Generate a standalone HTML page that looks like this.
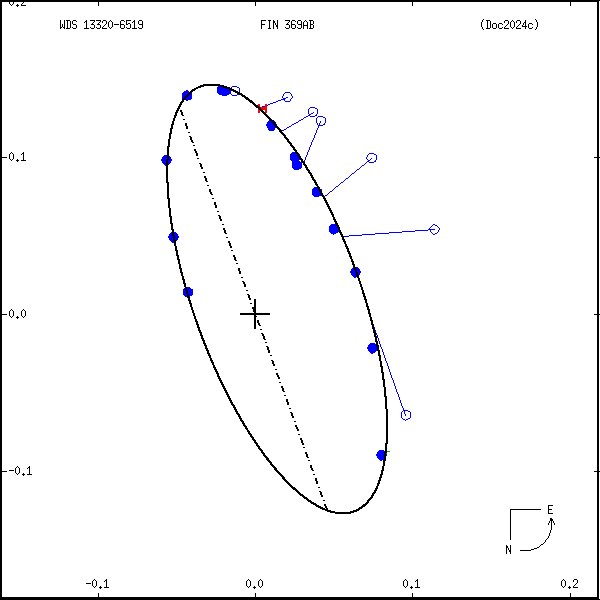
<!DOCTYPE html>
<html lang="en">
<head>
<meta charset="utf-8">
<title>WDS 13320-6519 FIN 369AB orbit (Doc2024c)</title>
<style>
html,body{margin:0;padding:0;background:#fff;width:600px;height:600px;overflow:hidden}
svg{display:block;position:absolute;left:0;top:0}
svg text{font-family:"Liberation Mono",monospace;font-size:10px;fill:#000;fill-opacity:0}
</style>
</head>
<body>
<svg width="600" height="600" viewBox="0 0 600 600" shape-rendering="crispEdges" role="img" aria-label="Orbit plot of WDS 13320-6519 FIN 369AB (Doc2024c)">
<rect width="600" height="600" fill="#fff"/>
<path fill="#0000ff" d="M161 159h5v2h-5zM162 161h4v2h-4zM162 157h5v2h-5zM163 163h3v1h-3zM163 156h4v1h-4zM164 164h2v1h-2zM164 155h3v1h-3zM165 165h1v1h-1zM168 164h1v1h-1zM168 163h2v1h-2zM168 161h3v2h-3zM168 160h4v1h-4zM168 236h5v2h-5zM169 156h1v1h-1zM169 157h2v2h-2zM169 159h3v1h-3zM169 234h3v2h-3zM169 238h4v2h-4zM170 233h2v1h-2zM170 240h3v1h-3zM171 232h1v1h-1zM171 241h3v1h-3zM172 242h2v1h-2zM174 232h2v1h-2zM174 233h3v1h-3zM174 234h4v1h-4zM175 235h3v1h-3zM175 238h3v2h-3zM175 236h4v2h-4zM176 240h1v1h-1zM182 98h1v1h-1zM182 97h2v1h-2zM182 96h3v1h-3zM182 95h4v1h-4zM182 94h5v1h-5zM182 93h6v1h-6zM183 289h2v2h-2zM183 291h3v3h-3zM183 294h4v1h-4zM183 92h6v1h-6zM184 288h1v1h-1zM184 295h3v1h-3zM184 91h5v1h-5zM185 296h2v1h-2zM185 99h6v1h-6zM186 90h2v1h-2zM186 100h2v1h-2zM186 98h6v1h-6zM187 287h3v1h-3zM187 288h4v1h-4zM187 97h5v1h-5zM187 289h6v1h-6zM188 96h4v1h-4zM188 290h5v4h-5zM189 296h1v1h-1zM189 95h3v1h-3zM189 295h3v1h-3zM189 294h4v1h-4zM190 94h2v1h-2zM191 93h1v1h-1zM217 87h6v1h-6zM217 88h9v1h-9zM217 89h12v1h-12zM217 90h14v3h-14zM218 86h2v1h-2zM218 93h13v1h-13zM219 94h10v1h-10zM222 95h5v1h-5zM231 87h1v1h-1zM231 94h1v1h-1zM232 86h5v1h-5zM232 95h5v1h-5zM237 87h2v1h-2zM237 94h2v1h-2zM239 88h1v4h-1zM262 106h3v1h-3zM266 124h7v1h-7zM266 125h8v1h-8zM267 105h1v1h-1zM267 122h5v1h-5zM267 123h6v1h-6zM267 126h8v1h-8zM267 127h9v1h-9zM268 104h2v1h-2zM268 121h3v1h-3zM268 128h7v2h-7zM269 120h1v1h-1zM269 130h5v1h-5zM270 103h3v1h-3zM273 120h1v1h-1zM273 102h3v1h-3zM274 121h1v1h-1zM275 122h1v1h-1zM276 124h1v1h-1zM276 101h2v1h-2zM278 100h3v1h-3zM281 99h4v1h-4zM282 96h1v2h-1zM282 130h2v1h-2zM283 94h1v2h-1zM283 98h3v1h-3zM284 93h1v1h-1zM284 100h1v1h-1zM284 129h2v1h-2zM285 92h5v1h-5zM285 101h5v1h-5zM286 128h1v1h-1zM286 97h2v1h-2zM287 127h2v1h-2zM289 126h2v1h-2zM290 93h1v1h-1zM290 99h1v2h-1zM290 154h7v2h-7zM290 156h8v1h-8zM290 157h9v2h-9zM290 159h10v1h-10zM291 94h1v2h-1zM291 98h1v1h-1zM291 125h1v1h-1zM291 153h5v1h-5zM291 160h8v1h-8zM292 96h1v2h-1zM292 124h2v1h-2zM292 152h3v1h-3zM292 161h8v1h-8zM292 162h10v6h-10zM293 168h8v1h-8zM294 123h2v1h-2zM294 169h5v1h-5zM296 122h2v1h-2zM298 121h1v1h-1zM299 154h1v1h-1zM299 120h2v1h-2zM301 119h2v1h-2zM303 118h1v1h-1zM304 160h1v2h-1zM304 117h2v1h-2zM305 157h1v3h-1zM306 155h1v2h-1zM306 116h2v1h-2zM307 152h1v3h-1zM308 109h1v5h-1zM308 150h1v2h-1zM308 115h2v1h-2zM309 108h1v1h-1zM309 147h1v3h-1zM309 114h2v1h-2zM310 145h1v2h-1zM310 107h5v1h-5zM310 116h5v1h-5zM311 142h1v3h-1zM311 113h2v1h-2zM312 140h1v2h-1zM312 189h6v1h-6zM312 190h7v2h-7zM312 192h8v2h-8zM312 194h9v1h-9zM313 112h1v1h-1zM313 138h1v2h-1zM313 188h5v1h-5zM313 195h8v1h-8zM314 135h1v3h-1zM314 187h3v1h-3zM314 196h5v1h-5zM315 133h1v2h-1zM315 108h2v1h-2zM315 115h2v1h-2zM316 114h1v1h-1zM316 118h1v5h-1zM316 130h1v3h-1zM317 109h1v5h-1zM317 117h1v1h-1zM317 123h1v2h-1zM317 128h1v2h-1zM318 126h1v2h-1zM318 116h5v1h-5zM318 125h5v1h-5zM319 123h1v2h-1zM320 121h1v2h-1zM321 189h1v2h-1zM323 117h2v1h-2zM323 124h2v1h-2zM324 123h1v1h-1zM324 196h1v1h-1zM325 118h1v5h-1zM325 195h2v1h-2zM327 194h1v1h-1zM328 193h1v1h-1zM329 192h1v1h-1zM329 226h8v2h-8zM329 228h9v2h-9zM329 230h10v2h-10zM330 191h2v1h-2zM330 225h6v1h-6zM330 232h8v1h-8zM331 224h5v1h-5zM331 233h5v1h-5zM332 190h1v1h-1zM333 189h1v1h-1zM333 234h1v1h-1zM334 188h1v1h-1zM335 187h1v1h-1zM336 186h2v1h-2zM338 185h1v1h-1zM339 184h1v1h-1zM340 183h1v1h-1zM341 182h2v1h-2zM343 181h1v1h-1zM344 180h1v1h-1zM344 236h5v1h-5zM345 179h1v1h-1zM346 178h2v1h-2zM348 177h1v1h-1zM349 176h1v1h-1zM349 235h13v1h-13zM350 175h1v1h-1zM350 271h5v2h-5zM351 174h1v1h-1zM351 269h3v1h-3zM351 270h4v1h-4zM351 273h5v2h-5zM352 173h2v1h-2zM352 268h2v1h-2zM352 275h4v1h-4zM353 267h1v1h-1zM353 276h4v1h-4zM354 172h1v1h-1zM354 277h2v1h-2zM355 171h1v1h-1zM356 170h1v1h-1zM356 267h2v1h-2zM356 268h3v1h-3zM357 169h2v1h-2zM357 269h3v2h-3zM357 271h4v1h-4zM358 273h2v2h-2zM358 272h3v1h-3zM359 168h1v1h-1zM360 167h1v1h-1zM361 166h1v1h-1zM362 165h2v1h-2zM362 234h13v1h-13zM364 164h1v1h-1zM365 163h1v1h-1zM366 157h1v2h-1zM366 162h1v1h-1zM367 155h1v2h-1zM367 159h1v1h-1zM367 161h2v1h-2zM367 347h10v2h-10zM368 154h1v1h-1zM368 160h2v1h-2zM368 345h8v1h-8zM368 346h9v1h-9zM368 349h9v2h-9zM369 153h5v1h-5zM369 162h5v1h-5zM369 344h7v1h-7zM369 351h7v1h-7zM370 159h1v1h-1zM370 343h5v1h-5zM370 352h5v1h-5zM371 158h1v1h-1zM371 353h2v1h-2zM374 327h1v1h-1zM374 154h2v1h-2zM374 161h2v1h-2zM375 160h1v1h-1zM375 330h1v2h-1zM375 233h14v1h-14zM376 155h1v5h-1zM376 333h1v2h-1zM376 454h8v2h-8zM377 335h1v3h-1zM377 452h7v2h-7zM377 456h7v2h-7zM378 338h1v3h-1zM378 458h6v1h-6zM378 451h7v1h-7zM379 341h1v3h-1zM379 450h5v1h-5zM379 459h5v1h-5zM380 344h1v3h-1zM380 460h2v1h-2zM381 347h1v2h-1zM382 349h1v3h-1zM383 352h1v3h-1zM384 355h1v3h-1zM385 358h1v3h-1zM386 361h1v2h-1zM386 454h1v2h-1zM387 363h1v3h-1zM388 366h1v3h-1zM389 369h1v3h-1zM389 232h13v1h-13zM390 372h1v3h-1zM391 375h1v3h-1zM392 378h1v2h-1zM393 380h1v3h-1zM394 383h1v3h-1zM395 386h1v3h-1zM396 389h1v3h-1zM397 392h1v2h-1zM398 394h1v3h-1zM399 397h1v3h-1zM400 400h1v3h-1zM401 403h1v3h-1zM401 412h1v6h-1zM402 406h1v2h-1zM402 411h1v1h-1zM402 418h1v1h-1zM402 231h13v1h-13zM403 408h1v2h-1zM403 419h2v1h-2zM403 410h5v1h-5zM404 411h1v3h-1zM405 414h1v2h-1zM405 420h1v1h-1zM406 419h2v1h-2zM408 411h2v1h-2zM408 418h2v1h-2zM410 412h1v6h-1zM415 230h13v1h-13zM428 229h7v1h-7zM429 228h1v1h-1zM430 227h1v1h-1zM430 230h1v2h-1zM431 226h1v1h-1zM431 232h1v1h-1zM432 225h1v1h-1zM432 233h1v1h-1zM433 224h2v1h-2zM433 234h2v1h-2zM435 225h2v1h-2zM435 233h2v1h-2zM437 226h1v1h-1zM437 232h1v1h-1zM438 227h1v1h-1zM438 230h1v2h-1zM439 228h1v2h-1z"/>
<path fill="#00a800" d="M386 453h1v1h-1zM387 451h3v1h-3z"/>
<path fill="#ff0000" d="M258 109h1v1h-1zM258 104h2v2h-2zM258 110h2v3h-2zM259 106h1v1h-1zM260 107h7v1h-7zM261 108h6v1h-6zM262 109h5v1h-5zM265 104h2v3h-2zM265 110h2v3h-2z"/>
<path fill="#000000" d="M0 2h2v155h-2zM0 158h2v156h-2zM0 315h2v156h-2zM0 472h2v125h-2zM0 157h7v1h-7zM0 314h7v1h-7zM0 471h7v1h-7zM0 1h599v1h-599zM0 597h599v2h-599zM0 0h600v1h-600zM0 599h600v1h-600zM9 2h1v2h-1zM9 154h1v5h-1zM9 311h1v5h-1zM9 470h5v1h-5zM10 4h1v1h-1zM10 153h1v1h-1zM10 159h1v1h-1zM10 310h1v1h-1zM10 316h1v1h-1zM11 5h1v1h-1zM11 152h1v1h-1zM11 160h1v1h-1zM11 309h1v1h-1zM11 317h1v1h-1zM12 4h1v1h-1zM12 153h1v1h-1zM12 159h1v1h-1zM12 310h1v1h-1zM12 316h1v1h-1zM13 2h1v2h-1zM13 154h1v5h-1zM13 311h1v5h-1zM15 468h1v5h-1zM16 467h1v1h-1zM16 473h1v1h-1zM16 5h3v1h-3zM16 160h3v1h-3zM16 317h3v1h-3zM17 4h1v1h-1zM17 6h1v1h-1zM17 159h1v1h-1zM17 161h1v1h-1zM17 316h1v1h-1zM17 318h1v1h-1zM17 466h1v1h-1zM17 474h1v1h-1zM18 467h1v1h-1zM18 473h1v1h-1zM19 468h1v5h-1zM21 4h1v1h-1zM21 154h1v1h-1zM21 311h1v5h-1zM21 5h5v1h-5zM21 160h5v1h-5zM22 3h1v1h-1zM22 310h1v1h-1zM22 316h1v1h-1zM22 153h2v1h-2zM22 474h3v1h-3zM23 2h1v1h-1zM23 152h1v1h-1zM23 154h1v6h-1zM23 309h1v1h-1zM23 317h1v1h-1zM23 473h1v1h-1zM23 475h1v1h-1zM24 310h1v1h-1zM24 316h1v1h-1zM25 311h1v5h-1zM27 468h1v1h-1zM27 474h5v1h-5zM28 467h2v1h-2zM29 466h1v1h-1zM29 468h1v6h-1zM60 20h1v7h-1zM60 28h1v1h-1zM60 27h2v1h-2zM62 24h1v3h-1zM63 27h2v1h-2zM64 20h1v7h-1zM64 28h1v1h-1zM66 20h4v1h-4zM66 28h4v1h-4zM67 21h1v7h-1zM70 21h1v7h-1zM72 21h1v3h-1zM72 27h1v1h-1zM73 20h3v1h-3zM73 24h3v1h-3zM73 28h3v1h-3zM76 21h1v1h-1zM76 25h1v3h-1zM84 22h1v1h-1zM84 28h5v1h-5zM85 21h2v1h-2zM86 20h1v1h-1zM86 22h1v6h-1zM86 583h5v1h-5zM90 27h1v1h-1zM90 20h5v1h-5zM91 24h3v1h-3zM91 28h3v1h-3zM92 23h1v1h-1zM92 581h1v5h-1zM93 22h1v1h-1zM93 580h1v1h-1zM93 586h1v1h-1zM94 21h1v1h-1zM94 25h1v3h-1zM94 579h1v1h-1zM94 587h1v1h-1zM95 580h1v1h-1zM95 586h1v1h-1zM96 27h1v1h-1zM96 581h1v5h-1zM96 20h5v1h-5zM97 24h3v1h-3zM97 28h3v1h-3zM98 2h1v4h-1zM98 23h1v1h-1zM98 593h1v4h-1zM99 22h1v1h-1zM99 587h3v1h-3zM100 21h1v1h-1zM100 25h1v3h-1zM100 586h1v1h-1zM100 588h1v1h-1zM102 21h1v2h-1zM102 27h1v1h-1zM102 28h5v1h-5zM103 26h1v1h-1zM103 20h3v1h-3zM104 25h1v1h-1zM104 581h1v1h-1zM104 587h5v1h-5zM105 24h1v1h-1zM105 580h2v1h-2zM106 21h1v3h-1zM106 579h1v1h-1zM106 581h1v6h-1zM108 22h1v5h-1zM109 21h1v1h-1zM109 27h1v1h-1zM110 20h1v1h-1zM110 28h1v1h-1zM111 21h1v1h-1zM111 27h1v1h-1zM112 22h1v5h-1zM114 24h5v1h-5zM120 21h1v3h-1zM120 25h1v3h-1zM120 24h4v1h-4zM121 20h3v1h-3zM121 28h3v1h-3zM124 21h1v1h-1zM124 25h1v3h-1zM126 21h1v3h-1zM126 27h1v1h-1zM126 24h2v1h-2zM126 20h5v1h-5zM127 28h3v1h-3zM128 23h2v1h-2zM130 24h1v4h-1zM132 22h1v1h-1zM132 28h5v1h-5zM133 21h2v1h-2zM134 20h1v1h-1zM134 22h1v6h-1zM138 21h1v3h-1zM138 27h1v1h-1zM139 20h3v1h-3zM139 28h3v1h-3zM139 24h4v1h-4zM142 21h1v3h-1zM142 25h1v3h-1zM166 160h2v22h-2zM166 159h3v1h-3zM166 182h3v1h-3zM167 147h2v12h-2zM167 183h2v15h-2zM167 146h3v1h-3zM167 198h3v1h-3zM168 139h2v7h-2zM168 199h2v9h-2zM169 134h2v5h-2zM169 208h2v8h-2zM169 133h3v1h-3zM169 216h3v1h-3zM170 129h2v4h-2zM170 217h2v6h-2zM170 128h3v1h-3zM170 223h3v1h-3zM171 125h2v3h-2zM171 224h2v5h-2zM171 124h3v1h-3zM171 229h3v1h-3zM172 121h2v3h-2zM172 230h2v5h-2zM172 235h3v1h-3zM173 118h2v3h-2zM173 236h2v4h-2zM173 240h3v1h-3zM174 116h2v2h-2zM174 241h2v5h-2zM174 115h3v1h-3zM175 113h2v2h-2zM175 246h2v4h-2zM175 112h3v1h-3zM175 250h3v1h-3zM176 111h2v1h-2zM176 251h2v4h-2zM176 110h3v1h-3zM176 255h3v1h-3zM177 109h2v1h-2zM177 256h2v3h-2zM177 108h3v1h-3zM177 259h3v1h-3zM178 107h2v1h-2zM178 260h2v4h-2zM178 106h3v1h-3zM179 105h2v1h-2zM179 264h2v4h-2zM179 104h3v1h-3zM179 268h3v1h-3zM180 103h2v1h-2zM180 110h2v2h-2zM180 269h2v3h-2zM180 102h3v1h-3zM180 272h3v1h-3zM181 112h2v3h-2zM181 273h2v3h-2zM181 101h3v1h-3zM182 100h2v1h-2zM182 115h2v1h-2zM182 276h2v3h-2zM182 99h3v1h-3zM182 279h3v1h-3zM183 119h2v1h-2zM183 280h2v3h-2zM183 98h3v1h-3zM183 283h3v1h-3zM184 284h2v3h-2zM184 97h3v1h-3zM185 123h2v3h-2zM185 287h2v3h-2zM185 96h3v1h-3zM185 290h3v1h-3zM186 126h2v3h-2zM186 291h2v3h-2zM186 95h3v1h-3zM187 294h2v3h-2zM187 94h3v1h-3zM187 297h3v1h-3zM188 132h2v1h-2zM188 298h2v2h-2zM188 93h3v1h-3zM188 300h3v1h-3zM189 136h2v1h-2zM189 301h2v2h-2zM189 92h3v1h-3zM189 303h3v1h-3zM190 137h2v3h-2zM190 304h2v3h-2zM190 91h3v1h-3zM191 140h2v2h-2zM191 307h2v3h-2zM191 90h4v1h-4zM192 142h2v1h-2zM192 310h2v3h-2zM192 89h4v1h-4zM193 145h2v1h-2zM193 313h2v3h-2zM194 149h2v2h-2zM194 316h2v3h-2zM194 88h4v1h-4zM195 151h2v2h-2zM195 319h2v2h-2zM195 321h3v1h-3zM196 153h2v3h-2zM196 322h2v2h-2zM196 324h3v1h-3zM196 87h5v1h-5zM197 158h2v1h-2zM197 325h2v2h-2zM197 327h3v1h-3zM198 328h2v2h-2zM198 330h3v1h-3zM198 86h6v1h-6zM199 163h2v1h-2zM199 331h2v1h-2zM199 332h3v1h-3zM200 164h2v3h-2zM200 333h2v2h-2zM200 335h3v1h-3zM200 85h24v1h-24zM201 167h2v2h-2zM201 336h2v2h-2zM201 338h3v1h-3zM202 339h2v1h-2zM202 340h3v1h-3zM203 172h2v1h-2zM203 341h2v2h-2zM203 343h3v1h-3zM203 84h17v1h-17zM204 176h2v2h-2zM204 344h2v1h-2zM204 345h3v1h-3zM205 178h2v3h-2zM205 346h2v2h-2zM205 348h3v1h-3zM206 181h2v1h-2zM206 349h2v1h-2zM206 350h3v1h-3zM207 185h2v1h-2zM207 351h2v2h-2zM207 353h3v1h-3zM208 354h2v1h-2zM208 355h3v1h-3zM209 189h2v3h-2zM209 356h2v2h-2zM210 192h2v2h-2zM210 358h2v2h-2zM210 360h3v1h-3zM211 194h2v1h-2zM211 361h2v1h-2zM211 362h3v1h-3zM212 198h2v1h-2zM212 363h2v2h-2zM213 365h2v2h-2zM213 367h3v1h-3zM214 202h2v3h-2zM214 368h2v1h-2zM214 369h3v1h-3zM215 205h2v3h-2zM215 370h2v1h-2zM215 371h3v1h-3zM216 372h2v1h-2zM216 373h3v1h-3zM217 211h2v1h-2zM217 374h2v2h-2zM217 376h3v1h-3zM218 215h2v1h-2zM218 377h2v1h-2zM218 378h3v1h-3zM219 216h2v3h-2zM219 379h2v1h-2zM219 380h3v1h-3zM220 219h2v2h-2zM220 381h2v1h-2zM220 382h3v1h-3zM220 86h7v1h-7zM221 383h2v1h-2zM221 384h3v1h-3zM222 224h2v1h-2zM222 385h2v1h-2zM222 386h3v1h-3zM223 228h2v2h-2zM223 387h2v1h-2zM223 388h3v1h-3zM223 87h7v1h-7zM224 230h2v3h-2zM224 389h2v1h-2zM224 390h3v1h-3zM225 233h2v1h-2zM225 391h2v1h-2zM225 392h3v1h-3zM226 237h2v1h-2zM226 393h2v1h-2zM226 394h3v1h-3zM226 88h6v1h-6zM227 395h2v1h-2zM227 396h3v1h-3zM228 241h2v2h-2zM228 397h2v1h-2zM228 398h3v1h-3zM229 243h2v3h-2zM229 399h2v1h-2zM229 400h3v1h-3zM229 89h5v1h-5zM230 246h2v2h-2zM230 401h2v1h-2zM230 402h3v1h-3zM231 250h2v1h-2zM231 403h2v1h-2zM231 404h3v1h-3zM231 90h5v1h-5zM232 405h3v1h-3zM233 255h2v2h-2zM233 406h2v1h-2zM233 407h3v1h-3zM233 91h5v1h-5zM234 257h2v3h-2zM234 408h2v1h-2zM234 409h3v1h-3zM235 260h2v1h-2zM235 410h2v1h-2zM235 411h3v1h-3zM235 92h5v1h-5zM236 263h2v1h-2zM236 412h2v1h-2zM236 413h3v1h-3zM237 414h3v1h-3zM237 93h5v1h-5zM238 268h2v3h-2zM238 415h2v1h-2zM238 416h3v1h-3zM239 271h2v3h-2zM239 417h2v1h-2zM239 418h3v1h-3zM239 94h4v1h-4zM240 419h2v1h-2zM240 420h3v1h-3zM240 313h30v2h-30zM241 277h2v1h-2zM241 421h3v1h-3zM241 95h4v1h-4zM242 281h2v1h-2zM242 422h2v1h-2zM242 423h3v1h-3zM242 96h4v1h-4zM243 282h2v2h-2zM243 424h2v1h-2zM243 425h3v1h-3zM244 284h2v3h-2zM244 426h3v1h-3zM244 97h4v1h-4zM245 427h2v1h-2zM245 428h3v1h-3zM245 98h4v1h-4zM246 581h1v5h-1zM246 290h2v1h-2zM246 429h2v1h-2zM246 99h4v1h-4zM247 580h1v1h-1zM247 586h1v1h-1zM247 294h2v1h-2zM247 430h2v1h-2zM247 431h3v1h-3zM248 579h1v1h-1zM248 587h1v1h-1zM248 295h2v3h-2zM248 432h2v1h-2zM248 433h3v1h-3zM248 100h4v1h-4zM249 580h1v1h-1zM249 586h1v1h-1zM249 298h2v2h-2zM249 434h3v1h-3zM249 101h4v1h-4zM250 581h1v5h-1zM250 303h2v1h-2zM250 435h2v1h-2zM250 436h3v1h-3zM250 102h4v1h-4zM251 437h3v1h-3zM252 438h2v1h-2zM252 103h3v1h-3zM252 439h3v1h-3zM252 307h4v2h-4zM253 104h3v1h-3zM253 309h3v3h-3zM253 440h3v1h-3zM253 587h3v1h-3zM254 586h1v1h-1zM254 588h1v1h-1zM254 299h2v8h-2zM254 312h2v1h-2zM254 315h2v1h-2zM254 317h2v12h-2zM254 441h2v1h-2zM254 316h3v1h-3zM254 442h3v1h-3zM254 105h4v1h-4zM255 2h1v4h-1zM255 593h1v4h-1zM255 443h3v1h-3zM255 106h4v1h-4zM256 444h2v1h-2zM256 445h3v1h-3zM256 107h4v1h-4zM257 320h2v3h-2zM257 446h3v1h-3zM258 581h1v5h-1zM258 323h2v2h-2zM258 447h2v1h-2zM258 108h3v1h-3zM258 448h3v1h-3zM259 580h1v1h-1zM259 586h1v1h-1zM259 325h2v1h-2zM259 109h3v1h-3zM259 449h3v1h-3zM260 579h1v1h-1zM260 587h1v1h-1zM260 329h2v1h-2zM260 110h3v1h-3zM260 450h3v1h-3zM261 21h1v3h-1zM261 25h1v4h-1zM261 580h1v1h-1zM261 586h1v1h-1zM261 333h2v1h-2zM261 451h2v1h-2zM261 111h3v1h-3zM261 452h3v1h-3zM261 24h4v1h-4zM261 20h5v1h-5zM262 581h1v5h-1zM262 334h2v2h-2zM262 112h3v1h-3zM262 453h3v1h-3zM263 336h2v3h-2zM263 454h2v1h-2zM263 113h3v1h-3zM263 455h3v1h-3zM264 339h2v1h-2zM264 114h3v1h-3zM264 456h3v1h-3zM265 342h2v1h-2zM265 115h3v1h-3zM265 457h3v1h-3zM266 346h2v1h-2zM266 116h3v1h-3zM266 458h3v2h-3zM267 347h2v3h-2zM267 117h3v1h-3zM267 460h3v1h-3zM268 350h2v3h-2zM268 20h3v1h-3zM268 28h3v1h-3zM268 118h3v1h-3zM268 461h3v1h-3zM269 21h1v7h-1zM269 119h3v1h-3zM269 462h3v1h-3zM270 355h2v1h-2zM270 463h2v1h-2zM270 120h3v1h-3zM270 464h3v1h-3zM271 360h2v1h-2zM271 121h3v1h-3zM271 465h3v1h-3zM272 361h2v3h-2zM272 122h3v1h-3zM272 466h3v1h-3zM273 20h1v1h-1zM273 23h1v6h-1zM273 21h2v2h-2zM273 364h2v2h-2zM273 123h3v2h-3zM273 467h3v1h-3zM274 125h3v1h-3zM274 468h3v2h-3zM275 23h1v2h-1zM275 369h2v1h-2zM275 126h3v1h-3zM275 470h3v1h-3zM276 25h2v2h-2zM276 373h2v2h-2zM276 127h3v1h-3zM276 471h3v1h-3zM277 20h1v5h-1zM277 27h1v2h-1zM277 375h2v2h-2zM277 128h3v1h-3zM277 472h3v1h-3zM278 377h2v2h-2zM278 129h3v1h-3zM278 473h3v1h-3zM279 382h2v1h-2zM279 130h3v2h-3zM279 474h3v1h-3zM280 132h3v1h-3zM280 475h3v1h-3zM281 386h2v2h-2zM281 133h3v1h-3zM281 476h3v1h-3zM282 388h2v3h-2zM282 134h3v1h-3zM282 477h3v2h-3zM283 391h2v1h-2zM283 135h3v1h-3zM283 479h3v1h-3zM284 136h2v1h-2zM284 395h2v1h-2zM284 137h3v1h-3zM284 480h3v1h-3zM285 27h1v1h-1zM285 138h3v1h-3zM285 481h3v1h-3zM285 20h5v1h-5zM286 399h2v3h-2zM286 24h3v1h-3zM286 28h3v1h-3zM286 139h3v1h-3zM286 482h3v1h-3zM287 23h1v1h-1zM287 140h2v1h-2zM287 402h2v3h-2zM287 141h3v1h-3zM287 483h3v1h-3zM288 22h1v1h-1zM288 142h3v1h-3zM288 484h3v1h-3zM289 21h1v1h-1zM289 25h1v3h-1zM289 408h2v1h-2zM289 143h3v1h-3zM289 485h3v1h-3zM290 144h2v1h-2zM290 412h2v1h-2zM290 145h3v1h-3zM290 486h3v1h-3zM291 21h1v3h-1zM291 25h1v3h-1zM291 413h2v3h-2zM291 146h3v1h-3zM291 24h4v1h-4zM291 487h4v1h-4zM292 416h2v2h-2zM292 20h3v1h-3zM292 28h3v1h-3zM292 147h3v1h-3zM292 488h4v1h-4zM293 148h2v1h-2zM293 149h3v1h-3zM293 489h4v1h-4zM294 421h2v1h-2zM294 150h3v1h-3zM295 21h1v1h-1zM295 25h1v3h-1zM295 151h2v1h-2zM295 425h2v2h-2zM295 152h3v1h-3zM295 490h3v1h-3zM296 427h2v2h-2zM296 153h3v1h-3zM296 491h3v1h-3zM297 21h1v3h-1zM297 27h1v1h-1zM297 154h2v1h-2zM297 429h2v2h-2zM297 155h3v1h-3zM297 492h3v1h-3zM298 434h2v1h-2zM298 20h3v1h-3zM298 28h3v1h-3zM298 156h3v1h-3zM298 493h3v1h-3zM298 24h4v1h-4zM299 157h2v1h-2zM299 158h3v1h-3zM299 494h4v1h-4zM300 438h2v2h-2zM300 159h3v1h-3zM300 495h4v1h-4zM301 21h1v3h-1zM301 25h1v3h-1zM301 160h2v1h-2zM301 440h2v3h-2zM301 161h3v1h-3zM302 443h2v2h-2zM302 162h3v1h-3zM302 496h3v1h-3zM303 22h1v3h-1zM303 26h1v3h-1zM303 163h2v1h-2zM303 447h2v1h-2zM303 164h3v1h-3zM303 497h4v1h-4zM303 25h5v1h-5zM304 21h1v1h-1zM304 165h3v1h-3zM304 498h4v1h-4zM305 20h1v1h-1zM305 166h2v1h-2zM305 452h2v2h-2zM305 167h3v1h-3zM306 21h1v1h-1zM306 168h2v1h-2zM306 454h2v3h-2zM306 169h3v1h-3zM306 499h3v1h-3zM307 22h1v3h-1zM307 26h1v3h-1zM307 457h2v1h-2zM307 170h3v1h-3zM307 500h4v1h-4zM308 171h2v1h-2zM308 460h2v1h-2zM308 172h3v1h-3zM308 501h4v1h-4zM309 173h3v1h-3zM309 20h4v1h-4zM309 28h4v1h-4zM310 21h1v3h-1zM310 25h1v3h-1zM310 174h2v1h-2zM310 465h2v3h-2zM310 24h3v1h-3zM310 175h3v1h-3zM310 502h4v1h-4zM311 176h2v1h-2zM311 468h2v2h-2zM311 177h3v1h-3zM311 503h5v1h-5zM312 178h2v1h-2zM312 470h2v1h-2zM312 179h3v1h-3zM313 21h1v3h-1zM313 25h1v3h-1zM313 474h2v1h-2zM313 180h3v1h-3zM313 504h4v1h-4zM314 181h2v1h-2zM314 182h3v1h-3zM315 183h2v1h-2zM315 478h2v3h-2zM315 184h3v1h-3zM315 505h4v1h-4zM316 185h2v1h-2zM316 481h2v3h-2zM316 506h5v1h-5zM317 186h2v1h-2zM317 187h3v1h-3zM318 188h2v1h-2zM318 487h2v1h-2zM318 189h3v1h-3zM318 507h5v1h-5zM319 190h2v1h-2zM319 491h2v1h-2zM319 191h3v1h-3zM320 192h2v1h-2zM320 492h2v3h-2zM320 193h3v1h-3zM320 508h5v1h-5zM321 194h2v1h-2zM321 495h2v2h-2zM321 195h3v1h-3zM322 196h2v1h-2zM322 509h6v1h-6zM323 197h2v1h-2zM323 500h2v1h-2zM323 198h3v1h-3zM324 199h2v1h-2zM324 504h2v2h-2zM324 200h3v1h-3zM325 201h2v1h-2zM325 506h2v2h-2zM325 202h3v1h-3zM325 510h6v1h-6zM326 203h2v1h-2zM326 508h2v1h-2zM326 204h3v1h-3zM327 205h2v1h-2zM327 206h3v1h-3zM327 511h8v1h-8zM328 207h2v1h-2zM328 208h3v1h-3zM329 209h2v1h-2zM329 210h3v1h-3zM330 211h2v1h-2zM330 212h3v1h-3zM330 512h24v1h-24zM331 213h2v1h-2zM331 214h3v1h-3zM332 215h2v2h-2zM333 217h2v2h-2zM333 219h3v1h-3zM334 220h2v1h-2zM334 221h3v1h-3zM335 222h2v1h-2zM335 223h3v1h-3zM335 513h16v1h-16zM336 224h2v1h-2zM336 225h3v1h-3zM337 226h2v1h-2zM337 227h3v1h-3zM338 228h2v2h-2zM339 230h2v2h-2zM339 232h3v1h-3zM340 233h2v1h-2zM340 234h3v1h-3zM341 235h2v1h-2zM341 236h3v1h-3zM342 237h2v2h-2zM342 239h3v1h-3zM343 240h2v1h-2zM343 241h3v1h-3zM344 242h2v2h-2zM345 244h2v2h-2zM345 246h3v1h-3zM346 247h2v1h-2zM346 248h3v1h-3zM347 249h2v2h-2zM347 251h3v1h-3zM348 252h2v1h-2zM348 253h3v1h-3zM349 254h2v2h-2zM349 256h3v1h-3zM350 257h2v2h-2zM350 511h7v1h-7zM351 259h2v2h-2zM351 261h3v1h-3zM352 262h2v2h-2zM352 264h3v1h-3zM353 265h2v2h-2zM353 510h6v1h-6zM354 267h2v2h-2zM354 269h3v1h-3zM355 270h2v2h-2zM355 272h3v1h-3zM356 273h2v2h-2zM356 275h3v1h-3zM356 509h4v1h-4zM357 276h2v2h-2zM358 278h2v3h-2zM358 508h4v1h-4zM359 281h2v3h-2zM359 507h4v1h-4zM360 284h2v3h-2zM361 287h2v3h-2zM361 506h4v1h-4zM362 290h2v3h-2zM362 293h3v1h-3zM362 505h4v1h-4zM363 294h2v2h-2zM363 296h3v1h-3zM363 504h4v1h-4zM364 297h2v2h-2zM364 299h3v1h-3zM365 300h2v3h-2zM365 503h3v1h-3zM366 303h2v3h-2zM366 306h3v1h-3zM366 502h3v1h-3zM367 307h2v2h-2zM367 501h2v1h-2zM367 309h3v1h-3zM367 500h3v1h-3zM368 310h2v3h-2zM368 313h3v1h-3zM368 499h3v1h-3zM369 314h2v3h-2zM369 498h3v1h-3zM370 317h2v3h-2zM370 320h3v1h-3zM370 497h3v1h-3zM371 321h2v3h-2zM371 496h2v1h-2zM371 324h3v1h-3zM371 495h3v1h-3zM372 325h2v3h-2zM372 494h2v1h-2zM372 328h3v1h-3zM372 493h3v1h-3zM373 329h2v3h-2zM373 332h3v1h-3zM373 492h3v1h-3zM374 333h2v3h-2zM374 491h2v1h-2zM374 336h3v1h-3zM374 490h3v1h-3zM375 337h2v4h-2zM375 489h2v1h-2zM375 341h3v1h-3zM375 488h3v1h-3zM376 342h2v3h-2zM376 486h2v2h-2zM376 345h3v1h-3zM377 346h2v4h-2zM377 484h2v2h-2zM377 350h3v1h-3zM377 483h3v1h-3zM378 351h2v4h-2zM378 481h2v2h-2zM378 355h3v1h-3zM378 480h3v1h-3zM379 356h2v5h-2zM379 478h2v2h-2zM379 477h3v1h-3zM380 361h2v5h-2zM380 475h2v2h-2zM380 366h3v1h-3zM380 474h3v1h-3zM381 367h2v5h-2zM381 471h2v3h-2zM381 372h3v1h-3zM381 470h3v1h-3zM382 373h2v6h-2zM382 466h2v4h-2zM382 379h3v1h-3zM383 380h2v7h-2zM383 461h2v5h-2zM383 460h3v1h-3zM384 387h2v9h-2zM384 453h2v7h-2zM384 396h3v1h-3zM384 452h3v1h-3zM385 397h2v12h-2zM385 444h2v8h-2zM385 443h3v1h-3zM386 409h2v34h-2zM403 581h1v5h-1zM404 580h1v1h-1zM404 586h1v1h-1zM405 579h1v1h-1zM405 587h1v1h-1zM406 580h1v1h-1zM406 586h1v1h-1zM407 581h1v5h-1zM410 587h3v1h-3zM411 586h1v1h-1zM411 588h1v1h-1zM412 2h1v4h-1zM412 593h1v4h-1zM415 581h1v1h-1zM415 587h5v1h-5zM416 580h2v1h-2zM417 579h1v1h-1zM417 581h1v6h-1zM481 22h1v5h-1zM482 20h1v2h-1zM482 27h1v2h-1zM483 19h1v1h-1zM483 29h1v1h-1zM486 20h4v1h-4zM486 28h4v1h-4zM487 21h1v7h-1zM490 21h1v7h-1zM492 24h1v4h-1zM493 23h3v1h-3zM493 28h3v1h-3zM496 24h1v4h-1zM498 24h1v4h-1zM499 23h3v1h-3zM499 28h3v1h-3zM502 24h1v1h-1zM502 27h1v1h-1zM504 21h1v2h-1zM504 27h1v1h-1zM504 28h5v1h-5zM505 26h1v1h-1zM505 20h3v1h-3zM506 25h1v1h-1zM506 545h1v1h-1zM506 548h1v6h-1zM506 546h2v2h-2zM507 24h1v1h-1zM508 21h1v3h-1zM508 548h1v2h-1zM509 550h2v2h-2zM510 22h1v5h-1zM510 510h1v30h-1zM510 545h1v5h-1zM510 552h1v2h-1zM510 509h31v1h-31zM511 21h1v1h-1zM511 27h1v1h-1zM512 20h1v1h-1zM512 28h1v1h-1zM513 21h1v1h-1zM513 27h1v1h-1zM514 22h1v5h-1zM516 21h1v2h-1zM516 27h1v1h-1zM516 28h5v1h-5zM517 26h1v1h-1zM517 20h3v1h-3zM518 25h1v1h-1zM519 24h1v1h-1zM520 21h1v3h-1zM520 550h11v1h-11zM522 25h1v1h-1zM522 26h5v1h-5zM523 23h1v2h-1zM524 22h2v1h-2zM525 20h1v2h-1zM525 23h1v3h-1zM525 27h1v2h-1zM528 24h1v4h-1zM529 23h3v1h-3zM529 28h3v1h-3zM531 549h3v1h-3zM532 24h1v1h-1zM532 27h1v1h-1zM534 548h3v1h-3zM535 19h1v1h-1zM535 29h1v1h-1zM536 20h1v2h-1zM536 27h1v2h-1zM537 22h1v5h-1zM537 547h2v1h-2zM539 546h1v1h-1zM540 545h1v1h-1zM541 544h2v1h-2zM543 543h1v1h-1zM544 542h1v1h-1zM545 540h1v2h-1zM546 539h1v1h-1zM547 538h1v1h-1zM548 506h1v3h-1zM548 510h1v3h-1zM548 523h1v2h-1zM548 536h1v2h-1zM548 509h4v1h-4zM548 505h5v1h-5zM548 513h5v1h-5zM549 521h1v2h-1zM549 533h1v3h-1zM550 530h1v3h-1zM550 518h2v1h-2zM550 519h3v2h-3zM551 521h1v9h-1zM553 521h1v2h-1zM554 523h1v2h-1zM561 581h1v5h-1zM562 580h1v1h-1zM562 586h1v1h-1zM563 579h1v1h-1zM563 587h1v1h-1zM564 580h1v1h-1zM564 586h1v1h-1zM565 581h1v5h-1zM568 587h3v1h-3zM569 586h1v1h-1zM569 588h1v1h-1zM570 2h1v4h-1zM570 593h1v4h-1zM573 580h1v2h-1zM573 586h1v1h-1zM573 587h5v1h-5zM574 585h1v1h-1zM574 579h3v1h-3zM575 584h1v1h-1zM576 583h1v1h-1zM577 580h1v3h-1zM594 157h6v1h-6zM594 314h6v1h-6zM594 471h6v1h-6zM597 2h2v155h-2zM597 158h2v156h-2zM597 315h2v156h-2zM597 472h2v125h-2z"/>
<g><text x="9" y="6">0.2</text><text x="9" y="161">0.1</text><text x="9" y="318">0.0</text><text x="9" y="475">-0.1</text><text x="86" y="588">-0.1</text><text x="246" y="588">0.0</text><text x="403" y="588">0.1</text><text x="561" y="588">0.2</text><text x="60" y="29">WDS 13320-6519</text><text x="261" y="29">FIN 369AB</text><text x="480" y="29">(Doc2024c)</text><text x="548" y="514">E</text><text x="506" y="554">N</text></g>
</svg>
</body>
</html>
